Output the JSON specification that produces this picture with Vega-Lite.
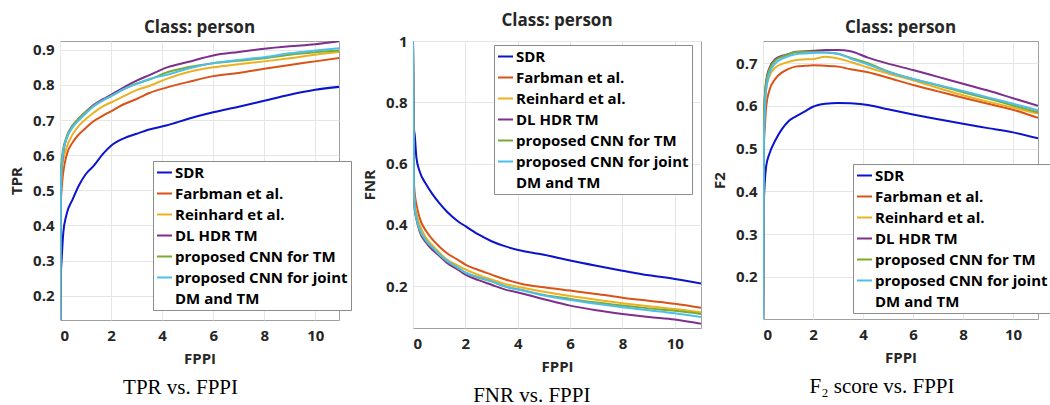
{
  "$schema": "https://vega.github.io/schema/vega-lite/v6.json",
  "padding": {"left": 9, "top": 11, "right": 0, "bottom": 0},
  "background": "white",
  "datasets": {
    "d": [
      {"m":"SDR","x":0,"t":0,"n":1,"f":0},
      {"m":"SDR","x":0.03,"t":0.25,"n":0.72,"f":0.36},
      {"m":"SDR","x":0.07,"t":0.31,"n":0.69,"f":0.42},
      {"m":"SDR","x":0.13,"t":0.38,"n":0.62,"f":0.46},
      {"m":"SDR","x":0.25,"t":0.43,"n":0.576,"f":0.487},
      {"m":"SDR","x":0.5,"t":0.475,"n":0.533,"f":0.52},
      {"m":"SDR","x":0.75,"t":0.515,"n":0.5,"f":0.545},
      {"m":"SDR","x":1,"t":0.545,"n":0.472,"f":0.563},
      {"m":"SDR","x":1.3,"t":0.568,"n":0.443,"f":0.575},
      {"m":"SDR","x":1.7,"t":0.605,"n":0.413,"f":0.588},
      {"m":"SDR","x":2,"t":0.627,"n":0.396,"f":0.598},
      {"m":"SDR","x":2.5,"t":0.648,"n":0.369,"f":0.605},
      {"m":"SDR","x":3,"t":0.661,"n":0.347,"f":0.607},
      {"m":"SDR","x":3.5,"t":0.673,"n":0.331,"f":0.606},
      {"m":"SDR","x":4.2,"t":0.685,"n":0.315,"f":0.602},
      {"m":"SDR","x":5,"t":0.703,"n":0.303,"f":0.592},
      {"m":"SDR","x":6,"t":0.722,"n":0.284,"f":0.58},
      {"m":"SDR","x":7,"t":0.738,"n":0.267,"f":0.569},
      {"m":"SDR","x":8,"t":0.755,"n":0.251,"f":0.558},
      {"m":"SDR","x":9,"t":0.772,"n":0.236,"f":0.548},
      {"m":"SDR","x":10,"t":0.786,"n":0.224,"f":0.538},
      {"m":"SDR","x":11,"t":0.795,"n":0.209,"f":0.524},

      {"m":"Farbman et al.","x":0,"t":0,"n":1,"f":0},
      {"m":"Farbman et al.","x":0.03,"t":0.46,"n":0.55,"f":0.5},
      {"m":"Farbman et al.","x":0.07,"t":0.51,"n":0.5,"f":0.546},
      {"m":"Farbman et al.","x":0.13,"t":0.553,"n":0.467,"f":0.6},
      {"m":"Farbman et al.","x":0.25,"t":0.598,"n":0.424,"f":0.635},
      {"m":"Farbman et al.","x":0.5,"t":0.637,"n":0.38,"f":0.664},
      {"m":"Farbman et al.","x":0.75,"t":0.66,"n":0.352,"f":0.678},
      {"m":"Farbman et al.","x":1,"t":0.677,"n":0.33,"f":0.686},
      {"m":"Farbman et al.","x":1.3,"t":0.696,"n":0.308,"f":0.692},
      {"m":"Farbman et al.","x":1.7,"t":0.713,"n":0.287,"f":0.694},
      {"m":"Farbman et al.","x":2,"t":0.725,"n":0.271,"f":0.695},
      {"m":"Farbman et al.","x":2.5,"t":0.745,"n":0.253,"f":0.694},
      {"m":"Farbman et al.","x":3,"t":0.76,"n":0.238,"f":0.692},
      {"m":"Farbman et al.","x":3.5,"t":0.777,"n":0.223,"f":0.686},
      {"m":"Farbman et al.","x":4.2,"t":0.793,"n":0.207,"f":0.679},
      {"m":"Farbman et al.","x":5,"t":0.808,"n":0.197,"f":0.666},
      {"m":"Farbman et al.","x":6,"t":0.825,"n":0.186,"f":0.649},
      {"m":"Farbman et al.","x":7,"t":0.834,"n":0.175,"f":0.634},
      {"m":"Farbman et al.","x":8,"t":0.846,"n":0.163,"f":0.619},
      {"m":"Farbman et al.","x":9,"t":0.857,"n":0.153,"f":0.605},
      {"m":"Farbman et al.","x":10,"t":0.867,"n":0.143,"f":0.591},
      {"m":"Farbman et al.","x":11,"t":0.877,"n":0.13,"f":0.572},

      {"m":"Reinhard et al.","x":0,"t":0,"n":1,"f":0},
      {"m":"Reinhard et al.","x":0.03,"t":0.5,"n":0.52,"f":0.52},
      {"m":"Reinhard et al.","x":0.07,"t":0.55,"n":0.47,"f":0.6},
      {"m":"Reinhard et al.","x":0.13,"t":0.585,"n":0.44,"f":0.64},
      {"m":"Reinhard et al.","x":0.25,"t":0.62,"n":0.402,"f":0.668},
      {"m":"Reinhard et al.","x":0.5,"t":0.66,"n":0.358,"f":0.69},
      {"m":"Reinhard et al.","x":0.75,"t":0.685,"n":0.333,"f":0.698},
      {"m":"Reinhard et al.","x":1,"t":0.702,"n":0.31,"f":0.703},
      {"m":"Reinhard et al.","x":1.3,"t":0.72,"n":0.287,"f":0.707},
      {"m":"Reinhard et al.","x":1.7,"t":0.74,"n":0.268,"f":0.709},
      {"m":"Reinhard et al.","x":2,"t":0.75,"n":0.255,"f":0.71},
      {"m":"Reinhard et al.","x":2.5,"t":0.768,"n":0.237,"f":0.715},
      {"m":"Reinhard et al.","x":3,"t":0.785,"n":0.222,"f":0.711},
      {"m":"Reinhard et al.","x":3.5,"t":0.797,"n":0.208,"f":0.703},
      {"m":"Reinhard et al.","x":4.2,"t":0.818,"n":0.195,"f":0.69},
      {"m":"Reinhard et al.","x":5,"t":0.836,"n":0.182,"f":0.676},
      {"m":"Reinhard et al.","x":6,"t":0.85,"n":0.168,"f":0.66},
      {"m":"Reinhard et al.","x":7,"t":0.859,"n":0.156,"f":0.642},
      {"m":"Reinhard et al.","x":8,"t":0.867,"n":0.145,"f":0.625},
      {"m":"Reinhard et al.","x":9,"t":0.876,"n":0.135,"f":0.61},
      {"m":"Reinhard et al.","x":10,"t":0.886,"n":0.126,"f":0.596},
      {"m":"Reinhard et al.","x":11,"t":0.894,"n":0.115,"f":0.582},

      {"m":"DL HDR TM","x":0,"t":0,"n":1,"f":0},
      {"m":"DL HDR TM","x":0.03,"t":0.52,"n":0.5,"f":0.55},
      {"m":"DL HDR TM","x":0.07,"t":0.57,"n":0.45,"f":0.62},
      {"m":"DL HDR TM","x":0.13,"t":0.61,"n":0.42,"f":0.66},
      {"m":"DL HDR TM","x":0.25,"t":0.648,"n":0.38,"f":0.688},
      {"m":"DL HDR TM","x":0.5,"t":0.685,"n":0.342,"f":0.71},
      {"m":"DL HDR TM","x":0.75,"t":0.705,"n":0.318,"f":0.717},
      {"m":"DL HDR TM","x":1,"t":0.723,"n":0.3,"f":0.721},
      {"m":"DL HDR TM","x":1.3,"t":0.742,"n":0.276,"f":0.727},
      {"m":"DL HDR TM","x":1.7,"t":0.76,"n":0.255,"f":0.728},
      {"m":"DL HDR TM","x":2,"t":0.772,"n":0.238,"f":0.729},
      {"m":"DL HDR TM","x":2.5,"t":0.793,"n":0.22,"f":0.731},
      {"m":"DL HDR TM","x":3,"t":0.812,"n":0.205,"f":0.731},
      {"m":"DL HDR TM","x":3.5,"t":0.828,"n":0.19,"f":0.728},
      {"m":"DL HDR TM","x":4.2,"t":0.85,"n":0.176,"f":0.713},
      {"m":"DL HDR TM","x":5,"t":0.865,"n":0.158,"f":0.699},
      {"m":"DL HDR TM","x":6,"t":0.884,"n":0.137,"f":0.684},
      {"m":"DL HDR TM","x":7,"t":0.894,"n":0.122,"f":0.668},
      {"m":"DL HDR TM","x":8,"t":0.903,"n":0.11,"f":0.652},
      {"m":"DL HDR TM","x":9,"t":0.91,"n":0.1,"f":0.636},
      {"m":"DL HDR TM","x":10,"t":0.916,"n":0.092,"f":0.618},
      {"m":"DL HDR TM","x":11,"t":0.925,"n":0.078,"f":0.6},

      {"m":"proposed CNN for TM","x":0,"t":0,"n":1,"f":0},
      {"m":"proposed CNN for TM","x":0.03,"t":0.55,"n":0.5,"f":0.56},
      {"m":"proposed CNN for TM","x":0.07,"t":0.59,"n":0.45,"f":0.62},
      {"m":"proposed CNN for TM","x":0.13,"t":0.62,"n":0.42,"f":0.655},
      {"m":"proposed CNN for TM","x":0.25,"t":0.65,"n":0.385,"f":0.685},
      {"m":"proposed CNN for TM","x":0.5,"t":0.685,"n":0.347,"f":0.707},
      {"m":"proposed CNN for TM","x":0.75,"t":0.705,"n":0.325,"f":0.715},
      {"m":"proposed CNN for TM","x":1,"t":0.722,"n":0.304,"f":0.72},
      {"m":"proposed CNN for TM","x":1.3,"t":0.74,"n":0.282,"f":0.726},
      {"m":"proposed CNN for TM","x":1.7,"t":0.757,"n":0.26,"f":0.727},
      {"m":"proposed CNN for TM","x":2,"t":0.768,"n":0.244,"f":0.727},
      {"m":"proposed CNN for TM","x":2.5,"t":0.788,"n":0.228,"f":0.725},
      {"m":"proposed CNN for TM","x":3,"t":0.804,"n":0.216,"f":0.722},
      {"m":"proposed CNN for TM","x":3.5,"t":0.815,"n":0.2,"f":0.713},
      {"m":"proposed CNN for TM","x":4.2,"t":0.836,"n":0.187,"f":0.7},
      {"m":"proposed CNN for TM","x":5,"t":0.85,"n":0.172,"f":0.681},
      {"m":"proposed CNN for TM","x":6,"t":0.862,"n":0.159,"f":0.663},
      {"m":"proposed CNN for TM","x":7,"t":0.869,"n":0.147,"f":0.648},
      {"m":"proposed CNN for TM","x":8,"t":0.876,"n":0.137,"f":0.632},
      {"m":"proposed CNN for TM","x":9,"t":0.886,"n":0.128,"f":0.617},
      {"m":"proposed CNN for TM","x":10,"t":0.893,"n":0.12,"f":0.601},
      {"m":"proposed CNN for TM","x":11,"t":0.898,"n":0.11,"f":0.585},

      {"m":"proposed CNN for joint DM and TM","x":0,"t":0,"n":1,"f":0},
      {"m":"proposed CNN for joint DM and TM","x":0.03,"t":0.5,"n":0.52,"f":0.5},
      {"m":"proposed CNN for joint DM and TM","x":0.07,"t":0.57,"n":0.46,"f":0.58},
      {"m":"proposed CNN for joint DM and TM","x":0.13,"t":0.61,"n":0.425,"f":0.64},
      {"m":"proposed CNN for joint DM and TM","x":0.25,"t":0.645,"n":0.388,"f":0.675},
      {"m":"proposed CNN for joint DM and TM","x":0.5,"t":0.68,"n":0.35,"f":0.7},
      {"m":"proposed CNN for joint DM and TM","x":0.75,"t":0.7,"n":0.327,"f":0.71},
      {"m":"proposed CNN for joint DM and TM","x":1,"t":0.718,"n":0.305,"f":0.716},
      {"m":"proposed CNN for joint DM and TM","x":1.3,"t":0.738,"n":0.283,"f":0.721},
      {"m":"proposed CNN for joint DM and TM","x":1.7,"t":0.757,"n":0.262,"f":0.723},
      {"m":"proposed CNN for joint DM and TM","x":2,"t":0.768,"n":0.245,"f":0.724},
      {"m":"proposed CNN for joint DM and TM","x":2.5,"t":0.788,"n":0.23,"f":0.725},
      {"m":"proposed CNN for joint DM and TM","x":3,"t":0.803,"n":0.216,"f":0.722},
      {"m":"proposed CNN for joint DM and TM","x":3.5,"t":0.817,"n":0.2,"f":0.711},
      {"m":"proposed CNN for joint DM and TM","x":4.2,"t":0.829,"n":0.186,"f":0.697},
      {"m":"proposed CNN for joint DM and TM","x":5,"t":0.846,"n":0.17,"f":0.68},
      {"m":"proposed CNN for joint DM and TM","x":6,"t":0.862,"n":0.155,"f":0.663},
      {"m":"proposed CNN for joint DM and TM","x":7,"t":0.871,"n":0.143,"f":0.649},
      {"m":"proposed CNN for joint DM and TM","x":8,"t":0.879,"n":0.132,"f":0.635},
      {"m":"proposed CNN for joint DM and TM","x":9,"t":0.89,"n":0.122,"f":0.62},
      {"m":"proposed CNN for joint DM and TM","x":10,"t":0.898,"n":0.112,"f":0.605},
      {"m":"proposed CNN for joint DM and TM","x":11,"t":0.905,"n":0.1,"f":0.59}
    ]
  },
  "data": {"name": "d"},
  "spacing": 10,
  "resolve": {"legend": {"color": "independent"}},
  "hconcat": [
    {
      "title": {"text": "TPR vs. FPPI", "orient": "bottom", "anchor": "middle", "offset": 10, "font": "Liberation Serif", "fontSize": 21, "fontWeight": "normal", "color": "black"},
      "resolve": {"legend": {"color": "independent"}},
      "vconcat": [
        {
          "width": 279, "height": 279,
          "title": "Class: person",
          "mark": {"type": "line", "clip": true, "strokeWidth": 2, "interpolate": "monotone"},
          "encoding": {
            "x": {"field": "x", "type": "quantitative", "scale": {"domain": [0, 10.93], "nice": false}, "axis": {"values": [0, 2, 4, 6, 8, 10], "title": "FPPI"}},
            "y": {"field": "t", "type": "quantitative", "scale": {"domain": [0.131, 0.925], "nice": false, "zero": false}, "axis": {"values": [0.2, 0.3, 0.4, 0.5, 0.6, 0.7, 0.8, 0.9], "format": "~g", "title": "TPR"}},
            "color": {"field": "m", "type": "nominal",
              "scale": {"domain": ["SDR", "Farbman et al.", "Reinhard et al.", "DL HDR TM", "proposed CNN for TM", "proposed CNN for joint DM and TM"], "range": ["#0a14cc", "#D95319", "#EDB120", "#7E2F8E", "#77AC30", "#4DBEEE"]},
              "legend": {"orient": "none", "legendX": 93, "legendY": 120, "labelExpr": "datum.label == 'proposed CNN for joint DM and TM' ? ['proposed CNN for joint', ' DM and TM'] : datum.label"}}
          }
        }
      ]
    },
    {
      "title": {"text": "FNR vs. FPPI", "orient": "bottom", "anchor": "middle", "offset": 10, "font": "Liberation Serif", "fontSize": 21, "fontWeight": "normal", "color": "black"},
      "resolve": {"legend": {"color": "independent"}},
      "vconcat": [
        {
          "width": 288, "height": 287,
          "title": "Class: person",
          "mark": {"type": "line", "clip": true, "strokeWidth": 2, "interpolate": "monotone"},
          "encoding": {
            "x": {"field": "x", "type": "quantitative", "scale": {"domain": [0, 11], "nice": false}, "axis": {"values": [0, 2, 4, 6, 8, 10], "title": "FPPI"}},
            "y": {"field": "n", "type": "quantitative", "scale": {"domain": [0.064, 1], "nice": false, "zero": false}, "axis": {"values": [0.2, 0.4, 0.6, 0.8, 1], "format": "~g", "title": "FNR"}},
            "color": {"field": "m", "type": "nominal",
              "scale": {"domain": ["SDR", "Farbman et al.", "Reinhard et al.", "DL HDR TM", "proposed CNN for TM", "proposed CNN for joint DM and TM"], "range": ["#0a14cc", "#D95319", "#EDB120", "#7E2F8E", "#77AC30", "#4DBEEE"]},
              "legend": {"orient": "none", "legendX": 81, "legendY": 4, "labelExpr": "datum.label == 'proposed CNN for joint DM and TM' ? ['proposed CNN for joint', ' DM and TM'] : datum.label"}}
          }
        }
      ]
    },
    {
      "title": {"text": "F₂ score vs. FPPI", "orient": "bottom", "anchor": "middle", "offset": 10, "font": "Liberation Serif", "fontSize": 21, "fontWeight": "normal", "color": "black"},
      "resolve": {"legend": {"color": "independent"}},
      "vconcat": [
        {
          "width": 275, "height": 278,
          "title": "Class: person",
          "mark": {"type": "line", "clip": true, "strokeWidth": 2, "interpolate": "monotone"},
          "encoding": {
            "x": {"field": "x", "type": "quantitative", "scale": {"domain": [0, 11], "nice": false}, "axis": {"values": [0, 2, 4, 6, 8, 10], "title": "FPPI"}},
            "y": {"field": "f", "type": "quantitative", "scale": {"domain": [0.101, 0.752], "nice": false, "zero": false}, "axis": {"values": [0.2, 0.3, 0.4, 0.5, 0.6, 0.7], "format": "~g", "title": "F2"}},
            "color": {"field": "m", "type": "nominal",
              "scale": {"domain": ["SDR", "Farbman et al.", "Reinhard et al.", "DL HDR TM", "proposed CNN for TM", "proposed CNN for joint DM and TM"], "range": ["#0a14cc", "#D95319", "#EDB120", "#7E2F8E", "#77AC30", "#4DBEEE"]},
              "legend": {"orient": "none", "legendX": 90, "legendY": 123, "labelExpr": "datum.label == 'proposed CNN for joint DM and TM' ? ['proposed CNN for joint', 'DM and TM'] : datum.label"}}
          }
        }
      ]
    }
  ],
  "config": {
    "font": "Open Sans",
    "view": {"stroke": "#a0a0a0", "strokeWidth": 1},
    "style": {"guide-label": {"lineHeight": 21}},
    "title": {"font": "Open Sans", "fontSize": 17, "fontWeight": "bold", "color": "#262626", "offset": 4},
    "axis": {
      "labelFont": "Open Sans", "labelFontSize": 15, "labelFontWeight": "bold", "labelColor": "#262626",
      "titleFont": "Open Sans", "titleFontSize": 15, "titleFontWeight": "bold", "titleColor": "#262626",
      "grid": true, "gridColor": "#e6e6e6", "domain": false, "ticks": false, "labelPadding": 6
    },
    "axisX": {"labelPadding": 8, "titlePadding": 8},
    "axisY": {"titlePadding": 8},
    "legend": {
      "title": null, "symbolType": "stroke", "symbolSize": 225, "symbolStrokeWidth": 2,
      "padding": 3, "strokeColor": "#8c8c8c", "fillColor": "white",
      "labelFont": "Open Sans", "labelFontSize": 15, "labelFontWeight": "bold", "labelColor": "black",
      "rowPadding": 4, "labelOffset": 2, "labelLimit": 400
    }
  }
}
